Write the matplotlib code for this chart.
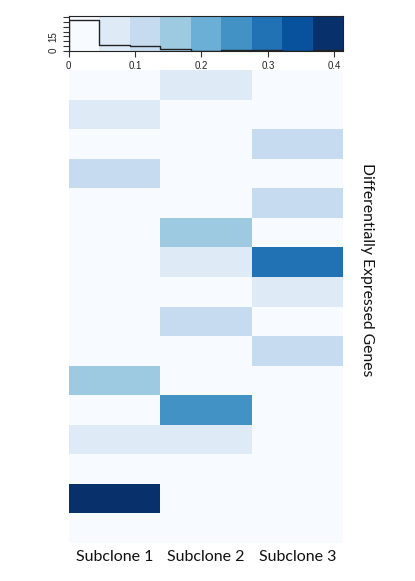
import numpy as np
import matplotlib
matplotlib.use("Agg")
import matplotlib.pyplot as plt
from matplotlib.colors import ListedColormap, BoundaryNorm

# ---- data ----
subclones = ["Subclone 1", "Subclone 2", "Subclone 3"]
# rows listed top to bottom
sub1 = [0, 0.07, 0, 0.11, 0, 0, 0, 0, 0, 0, 0.16, 0, 0.07, 0, 0.41, 0]
sub2 = [0.07, 0, 0, 0, 0, 0.16, 0.07, 0, 0.11, 0, 0, 0.25, 0.07, 0, 0, 0]
sub3 = [0, 0, 0.11, 0, 0.11, 0, 0.30, 0.07, 0, 0.11, 0, 0, 0, 0, 0, 0]
key_ticks = [0, 0.1, 0.2, 0.3, 0.4]
count_ticks = [0, 5, 10, 15, 20, 25, 30, 35]
count_labels = ["0", "", "", "15", "", "", "", ""]
ylabel = "Differentially Expressed Genes"

blues = ["#f7fbff", "#deebf7", "#c6dbef", "#9ecae1", "#6baed6",
         "#4292c6", "#2171b5", "#08519c", "#08306b"]
vmax = 0.413
breaks = np.linspace(0, vmax, len(blues) + 1)
cmap = ListedColormap(blues)
norm = BoundaryNorm(breaks, cmap.N)

mat = np.array([sub1, sub2, sub3]).T  # rows x cols
nrow, ncol = mat.shape

W, H = 415, 581
fig = plt.figure(figsize=(W / 100, H / 100), dpi=100)

def ax_px(x0, y0, x1, y1):
    return fig.add_axes([x0 / W, 1 - y1 / H, (x1 - x0) / W, (y1 - y0) / H])

# ---- heatmap ----
ax = ax_px(69, 70, 343, 543)
ax.pcolormesh(np.arange(ncol + 1), np.arange(nrow + 1), mat, cmap=cmap, norm=norm)
ax.set_xlim(0, ncol)
ax.set_ylim(nrow, 0)
ax.set_xticks(np.arange(ncol) + 0.5)
ax.set_xticklabels(subclones, fontsize=11.5, family="Lato", color="#111111")
ax.tick_params(axis="x", length=0, pad=5)
ax.set_yticks([])
for s in ax.spines.values():
    s.set_visible(False)

fig.text(367 / W, 1 - 270 / H, ylabel, rotation=-90, ha="center", va="center",
         fontsize=11.3, family="Lato", color="#111111")

# ---- color key with histogram ----
kx = ax_px(68.5, 16, 343, 50.7)
kx.pcolormesh(breaks, [0, 40], np.array([(breaks[:-1] + breaks[1:]) / 2]),
              cmap=cmap, norm=norm)
counts, _ = np.histogram(mat.ravel(), bins=breaks)
kx.step(np.r_[breaks[0], breaks[1:]], np.r_[counts[0], counts], where="pre",
        color="#222222", lw=1.0)
kx.plot([breaks[0], breaks[0]], [0, counts[0]], color="#222222", lw=1.0)
kx.set_xlim(0, vmax)
kx.set_ylim(0, 36.5)
kx.set_xticks(key_ticks)
kx.set_xticklabels([f"{t:g}" for t in key_ticks], fontsize=7, family="Liberation Sans",
                   color="#222222")
kx.set_yticks(count_ticks)
kx.set_yticklabels(count_labels, fontsize=7, family="Liberation Sans",
                   rotation=90, va="center", color="#222222")
kx.tick_params(axis="x", length=4, width=0.8, pad=3.5, color="#333333")
kx.tick_params(axis="y", length=4, width=0.8, pad=3, color="#333333")
for s in kx.spines.values():
    s.set_linewidth(0.8)
    s.set_color("#222222")

fig.savefig("out.png", dpi=100)
